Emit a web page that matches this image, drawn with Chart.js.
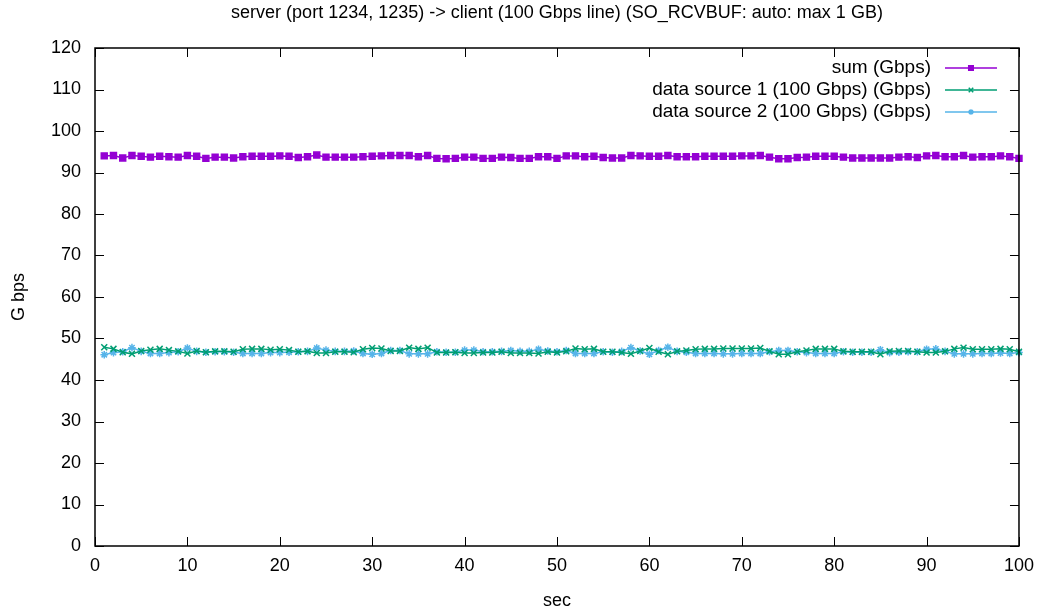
<!DOCTYPE html>
<html>
<head>
<meta charset="utf-8">
<title>server -> client throughput</title>
<script src="https://cdn.jsdelivr.net/npm/chart.js@4.4.1/dist/chart.umd.min.js"></script>
<style>
  html, body { margin: 0; padding: 0; background: #fff; }
  #wrap { position: relative; width: 1043px; height: 610px; }
</style>
</head>
<body>
<div id="wrap"><canvas id="chart"></canvas></div>
<script>
// seconds since start of the transfer
const seconds = [
  1, 2, 3, 4, 5, 6, 7, 8, 9, 10, 11, 12, 13, 14, 15, 16, 17, 18, 19, 20,
  21, 22, 23, 24, 25, 26, 27, 28, 29, 30, 31, 32, 33, 34, 35, 36, 37, 38, 39, 40,
  41, 42, 43, 44, 45, 46, 47, 48, 49, 50, 51, 52, 53, 54, 55, 56, 57, 58, 59, 60,
  61, 62, 63, 64, 65, 66, 67, 68, 69, 70, 71, 72, 73, 74, 75, 76, 77, 78, 79, 80,
  81, 82, 83, 84, 85, 86, 87, 88, 89, 90, 91, 92, 93, 94, 95, 96, 97, 98, 99, 100
];

// throughput in Gbps
const sumGbps = [
  94.0, 94.1, 93.5, 94.1, 93.9, 93.7, 93.9, 93.8, 93.7, 94.1,
  93.9, 93.4, 93.7, 93.7, 93.5, 93.8, 93.9, 93.9, 93.9, 94.0,
  93.9, 93.6, 93.8, 94.2, 93.7, 93.7, 93.7, 93.7, 93.8, 93.9,
  94.0, 94.1, 94.1, 94.1, 93.8, 94.1, 93.4, 93.3, 93.4, 93.7,
  93.7, 93.4, 93.4, 93.7, 93.6, 93.4, 93.4, 93.8, 93.8, 93.4,
  94.0, 94.0, 93.8, 93.9, 93.6, 93.5, 93.5, 94.1, 94.0, 93.9,
  93.9, 94.1, 93.8, 93.8, 93.8, 93.9, 93.9, 93.9, 93.9, 94.0,
  94.0, 94.1, 93.7, 93.3, 93.3, 93.6, 93.7, 93.9, 93.9, 93.9,
  93.7, 93.5, 93.5, 93.5, 93.5, 93.5, 93.7, 93.8, 93.6, 94.0,
  94.1, 93.8, 93.8, 94.1, 93.7, 93.8, 93.8, 94.0, 93.8, 93.4
];

const source1Gbps = [
  47.9, 47.5, 46.7, 46.3, 47.0, 47.3, 47.5, 47.2, 46.9, 46.4,
  47.0, 46.7, 46.9, 46.9, 46.8, 47.4, 47.5, 47.5, 47.3, 47.4,
  47.2, 46.8, 46.9, 46.5, 46.5, 46.8, 46.8, 46.7, 47.4, 47.7,
  47.6, 47.0, 47.0, 47.8, 47.5, 47.8, 46.6, 46.6, 46.7, 46.5,
  46.5, 46.6, 46.6, 46.8, 46.5, 46.5, 46.5, 46.4, 46.8, 46.6,
  46.9, 47.6, 47.4, 47.5, 46.8, 46.8, 46.6, 46.3, 47.0, 47.7,
  46.8, 46.2, 46.9, 47.1, 47.4, 47.5, 47.5, 47.6, 47.6, 47.6,
  47.6, 47.7, 46.9, 46.2, 46.2, 46.8, 47.1, 47.5, 47.5, 47.5,
  46.9, 46.8, 46.8, 46.8, 46.2, 46.9, 47.0, 47.0, 46.8, 46.6,
  46.6, 46.9, 47.5, 47.8, 47.4, 47.4, 47.4, 47.5, 47.4, 46.8
];

const source2Gbps = [
  46.1, 46.6, 46.8, 47.8, 46.9, 46.4, 46.4, 46.6, 46.8, 47.7,
  46.9, 46.7, 46.8, 46.8, 46.7, 46.4, 46.4, 46.4, 46.6, 46.6,
  46.7, 46.8, 46.9, 47.7, 47.2, 46.9, 46.9, 47.0, 46.4, 46.2,
  46.4, 47.1, 47.1, 46.3, 46.3, 46.3, 46.8, 46.7, 46.7, 47.2,
  47.2, 46.8, 46.8, 46.9, 47.1, 46.9, 46.9, 47.4, 47.0, 46.8,
  47.1, 46.4, 46.4, 46.4, 46.8, 46.7, 46.9, 47.8, 47.0, 46.2,
  47.1, 47.9, 46.9, 46.7, 46.4, 46.4, 46.4, 46.3, 46.3, 46.4,
  46.4, 46.4, 46.8, 47.1, 47.1, 46.8, 46.6, 46.4, 46.4, 46.4,
  46.8, 46.7, 46.7, 46.7, 47.3, 46.6, 46.7, 46.8, 46.8, 47.4,
  47.5, 46.9, 46.3, 46.3, 46.3, 46.4, 46.4, 46.5, 46.4, 46.6
];

const seriesLabels = ['sum (Gbps)', 'data source 1 (100 Gbps) (Gbps)', 'data source 2 (100 Gbps) (Gbps)'];
const seriesColors = ['#9400d3', '#009e73', '#56b4e9'];
const seriesPoints = ['rect', 'crossRot', 'star'];
const seriesRadius = [4.2, 4.2, 3.8];

const FONT = 'Liberation Sans, Arial, sans-serif';
const TEXT = '#000';

function pairs(values) {
  return values.map((v, i) => ({ x: seconds[i], y: v }));
}

// black box round the plot area with inward ticks on all four sides
const frameTicks = {
  id: 'frameTicks',
  afterDraw(chart) {
    const { ctx, chartArea: a, scales } = chart;
    const len = 9;
    ctx.save();
    ctx.strokeStyle = '#000';
    ctx.lineWidth = 1;
    ctx.beginPath();
    scales.x.ticks.forEach(t => {
      const px = Math.round(scales.x.getPixelForValue(t.value)) + 0.5;
      ctx.moveTo(px, a.bottom); ctx.lineTo(px, a.bottom - len);
      ctx.moveTo(px, a.top); ctx.lineTo(px, a.top + len);
    });
    scales.y.ticks.forEach(t => {
      const py = Math.round(scales.y.getPixelForValue(t.value)) + 0.5;
      ctx.moveTo(a.left, py); ctx.lineTo(a.left + len, py);
      ctx.moveTo(a.right, py); ctx.lineTo(a.right - len, py);
    });
    ctx.stroke();
    ctx.lineWidth = 1.5;
    ctx.strokeRect(a.left, a.top, a.right - a.left, a.bottom - a.top);
    ctx.restore();
  }
};

// key in the top right corner: label, then a line sample with its marker
const keyBox = {
  id: 'keyBox',
  afterDraw(chart) {
    const { ctx, chartArea: a } = chart;
    const textRight = a.right - 88;
    const x0 = a.right - 74, x1 = a.right - 22;
    ctx.save();
    ctx.font = '19px ' + FONT;
    ctx.textAlign = 'right';
    ctx.textBaseline = 'middle';
    chart.data.datasets.forEach((ds, i) => {
      const y = a.top + 20 + i * 22;
      ctx.fillStyle = TEXT;
      ctx.fillText(ds.label, textRight, y);
      ctx.strokeStyle = ds.borderColor;
      ctx.fillStyle = ds.borderColor;
      ctx.lineWidth = ds.borderWidth;
      ctx.beginPath();
      ctx.moveTo(x0, y); ctx.lineTo(x1, y);
      ctx.stroke();
      Chart.helpers.drawPoint(ctx, {
        pointStyle: ds.pointStyle, radius: ds.pointRadius - 1,
        borderWidth: ds.pointBorderWidth, rotation: 0
      }, (x0 + x1) / 2, y);
    });
    ctx.restore();
  }
};

const datasets = [sumGbps, source1Gbps, source2Gbps].map((vals, i) => ({
  label: seriesLabels[i],
  data: pairs(vals),
  borderColor: seriesColors[i],
  backgroundColor: seriesColors[i],
  borderWidth: 1.5,
  pointStyle: seriesPoints[i],
  pointRadius: seriesRadius[i],
  pointBorderWidth: 1.5,
  pointBackgroundColor: seriesColors[i],
  pointBorderColor: seriesColors[i],
  tension: 0,
  clip: false
}));

new Chart(document.getElementById('chart'), {
  type: 'line',
  data: { datasets },
  plugins: [frameTicks, keyBox],
  options: {
    responsive: true,
    maintainAspectRatio: false,
    animation: false,
    events: [],
    layout: { padding: { left: 0, right: 24, top: 0, bottom: 0 } },
    plugins: {
      legend: { display: false },
      tooltip: { enabled: false },
      title: {
        display: true,
        fullSize: false,
        text: 'server (port 1234, 1235) -> client (100 Gbps line) (SO_RCVBUF: auto: max 1 GB)',
        color: TEXT,
        font: { family: FONT, size: 18, weight: 'normal', lineHeight: 1.2 },
        padding: { top: 2, bottom: 24.4 }
      }
    },
    scales: {
      x: {
        type: 'linear',
        min: 0, max: 100,
        afterFit(scale) { scale.height = 64; },
        ticks: { stepSize: 10, color: TEXT, padding: 9, maxRotation: 0,
                 font: { family: FONT, size: 18 } },
        grid: { display: false, drawTicks: false },
        border: { display: false },
        title: { display: true, text: 'sec', color: TEXT,
                 font: { family: FONT, size: 18, lineHeight: 1.0 },
                 padding: { top: 0, bottom: 0 } }
      },
      y: {
        min: 0, max: 120,
        afterFit(scale) { scale.width = 95; },
        ticks: { stepSize: 10, color: TEXT, padding: 14,
                 font: { family: FONT, size: 18 } },
        grid: { display: false, drawTicks: false },
        border: { display: false },
        title: { display: true, text: 'G bps', color: TEXT,
                 font: { family: FONT, size: 18, lineHeight: 1.2 },
                 padding: { top: 8, bottom: 0 } }
      }
    }
  }
});
</script>
</body>
</html>
